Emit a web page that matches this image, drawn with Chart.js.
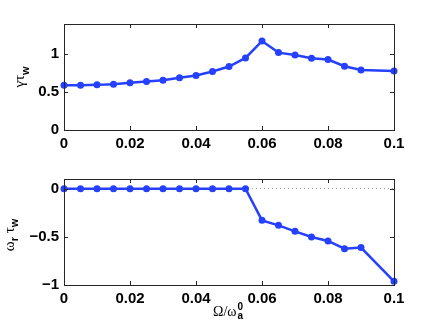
<!DOCTYPE html>
<html>
<head>
<meta charset="utf-8">
<script src="https://cdn.jsdelivr.net/npm/chart.js@4"></script>
<style>
  html, body { margin: 0; padding: 0; background: #fff; }
  #wrap { position: relative; width: 436px; height: 328px; overflow: hidden; }
  canvas { position: absolute; left: 0; }
  #top { top: 0; }
  #bottom { top: 160px; }
</style>
</head>
<body>
<div id="wrap">
  <canvas id="top" width="436" height="160"></canvas>
  <canvas id="bottom" width="436" height="168"></canvas>
</div>
<script>
// Omega / omega_a^0
const omegaRatio = [0, 0.005, 0.01, 0.015, 0.02, 0.025, 0.03, 0.035, 0.04, 0.045,
                    0.05, 0.055, 0.06, 0.065, 0.07, 0.075, 0.08, 0.085, 0.09, 0.1];
// gamma * tau_w
const gammaTau = [0.592, 0.592, 0.596, 0.605, 0.623, 0.640, 0.658, 0.689, 0.719, 0.772,
                  0.838, 0.952, 1.175, 1.022, 0.991, 0.947, 0.930, 0.842, 0.794, 0.780];
// omega_r * tau_w
const omegaTau = [0, 0, 0, 0, 0, 0, 0, 0, 0, 0,
                  0, 0, -0.329, -0.381, -0.443, -0.502, -0.543, -0.623, -0.612, -0.962];

const xTicks = [0, 0.02, 0.04, 0.06, 0.08, 0.1];
const topTicks = [0, 0.5, 1];
const bottomTicks = [-1, -0.5, 0];

const blue = 'rgb(38,64,255)';
const frameColor = '#262626';
const tickFont = { family: '"Liberation Sans", Arial, sans-serif', size: 15, weight: 'bold' };

const fmt = v => String(+v.toFixed(3)).replace('-', '\u2212');

// matlab style box with inward ticks
const boxPlugin = {
  id: 'box',
  afterDraw(chart) {
    const { ctx, chartArea: a, scales } = chart;
    ctx.save();
    ctx.strokeStyle = frameColor;
    ctx.lineWidth = 1;
    ctx.strokeRect(Math.round(a.left) + 0.5, Math.round(a.top) + 0.5,
                   Math.round(a.right - a.left), Math.round(a.bottom - a.top));
    const len = 4;
    ctx.beginPath();
    scales.x.ticks.forEach(t => {
      const px = Math.round(scales.x.getPixelForValue(t.value)) + 0.5;
      ctx.moveTo(px, a.bottom); ctx.lineTo(px, a.bottom - len);
      ctx.moveTo(px, a.top); ctx.lineTo(px, a.top + len);
    });
    scales.y.ticks.forEach(t => {
      const py = Math.round(scales.y.getPixelForValue(t.value)) + 0.5;
      ctx.moveTo(a.left, py); ctx.lineTo(a.left + len, py);
      ctx.moveTo(a.right, py); ctx.lineTo(a.right - len, py);
    });
    ctx.stroke();
    ctx.restore();
  }
};

// text made of pieces with different fonts and baseline shifts
function richWidth(ctx, parts) {
  let w = 0;
  parts.forEach(p => { ctx.font = p.font; w += ctx.measureText(p.t).width; });
  return w;
}
function drawRich(ctx, parts, x) {
  parts.forEach(p => {
    ctx.font = p.font;
    ctx.fillText(p.t, x, p.dy || 0);
    x += ctx.measureText(p.t).width;
  });
}

const greek = '15px "Liberation Serif", "DejaVu Serif", serif';
const sub = 'bold 11px "Liberation Sans", Arial, sans-serif';

function yLabelPlugin(parts, bx, cy) {
  return {
    id: 'ylabel',
    afterDraw(chart) {
      const ctx = chart.ctx;
      ctx.save();
      ctx.fillStyle = '#000';
      ctx.textBaseline = 'alphabetic';
      ctx.translate(bx, cy);
      ctx.rotate(-Math.PI / 2);
      const w = richWidth(ctx, parts);
      drawRich(ctx, parts, -w / 2);
      ctx.restore();
    }
  };
}

const xLabelPlugin = {
  id: 'xlabel',
  afterDraw(chart) {
    const ctx = chart.ctx;
    ctx.save();
    ctx.fillStyle = '#000';
    ctx.textBaseline = 'alphabetic';
    ctx.font = '14px "Liberation Serif", "DejaVu Serif", serif';
    const x0 = 213, base = 156;
    ctx.fillText('\u03A9/\u03C9', x0, base);
    const w = ctx.measureText('\u03A9/\u03C9').width;
    ctx.font = 'bold 10px "Liberation Sans", Arial, sans-serif';
    ctx.fillText('0', x0 + w + 1, base - 6);
    ctx.fillText('a', x0 + w + 1, base + 3);
    ctx.restore();
  }
};

function makeChart(id, values, yMin, yMax, yTickVals, padTop, xHeight, extraPlugins, withRef) {
  const datasets = [{
    data: omegaRatio.map((x, i) => ({ x, y: values[i] })),
    borderColor: blue,
    backgroundColor: blue,
    borderWidth: 2.5,
    pointRadius: 3.5,
    pointBorderWidth: 0,
    pointBackgroundColor: blue,
    tension: 0,
    clip: false,
    order: 1
  }];
  if (withRef) {
    datasets.push({
      data: [{ x: 0, y: 0 }, { x: 0.1, y: 0 }],
      borderColor: '#999',
      borderWidth: 1,
      borderDash: [1, 3],
      pointRadius: 0,
      order: 2
    });
  }
  return new Chart(document.getElementById(id), {
    type: 'line',
    data: { datasets },
    options: {
      responsive: false,
      animation: false,
      devicePixelRatio: 1,
      layout: { padding: { top: padTop, right: 42, left: 0, bottom: 0 } },
      plugins: { legend: { display: false }, tooltip: { enabled: false } },
      scales: {
        x: {
          type: 'linear', min: 0, max: 0.1,
          afterFit: s => { s.height = xHeight; },
          afterBuildTicks: s => { s.ticks = xTicks.map(v => ({ value: v })); },
          grid: { display: false, drawTicks: false },
          border: { display: false },
          ticks: { font: tickFont, color: '#000', padding: 5, maxRotation: 0, autoSkip: false, callback: fmt }
        },
        y: {
          min: yMin, max: yMax,
          afterFit: s => { s.width = 64; },
          afterBuildTicks: s => { s.ticks = yTickVals.map(v => ({ value: v })); },
          grid: { display: false, drawTicks: false },
          border: { display: false },
          ticks: { font: tickFont, color: '#000', padding: 5, autoSkip: false, callback: fmt }
        }
      }
    },
    plugins: [boxPlugin, ...extraPlugins]
  });
}

makeChart('top', gammaTau, 0, 1.4, topTicks, 24, 30,
  [yLabelPlugin([
    { t: '\u03B3\u03C4', font: greek },
    { t: 'w', font: sub, dy: 5 }
  ], 23.5, 77)], false);

makeChart('bottom', omegaTau, -1, 0.1, bottomTicks, 19, 43,
  [yLabelPlugin([
    { t: '\u03C9', font: greek },
    { t: 'r', font: sub, dy: 4 },
    { t: ' \u03C4', font: greek },
    { t: 'w', font: sub, dy: 4 }
  ], 14, 75), xLabelPlugin], true);
</script>
</body>
</html>
